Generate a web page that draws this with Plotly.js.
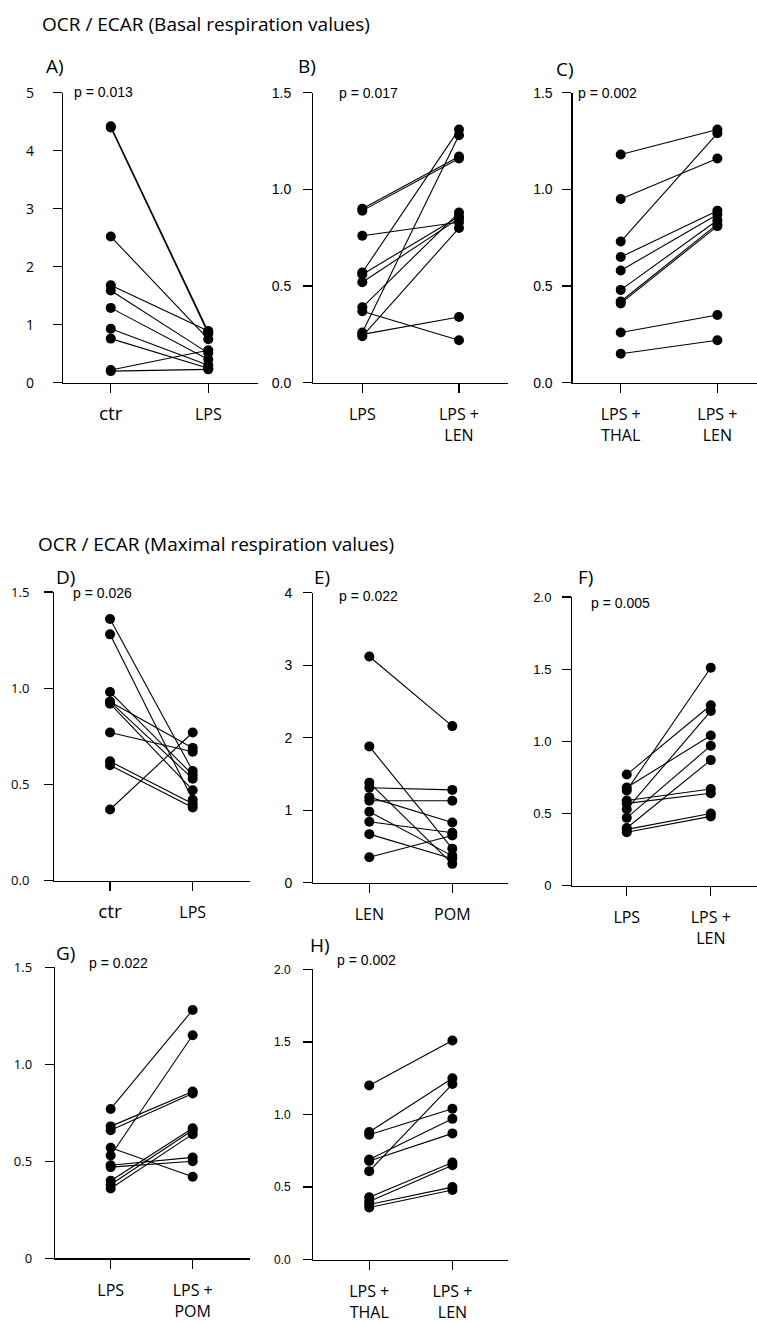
<!DOCTYPE html>
<html>
<head>
<meta charset="utf-8">
<script src="https://cdn.plot.ly/plotly-3.0.1.min.js"></script>
<style>html,body{margin:0;padding:0;background:#fff;}#chart{width:757px;height:1323px;}</style>
</head>
<body>
<div id="chart"></div>
<script>
// ---------- data ----------
const titleBasal = "OCR / ECAR (Basal respiration values)";
const titleMaximal = "OCR / ECAR (Maximal respiration values)";

const A_cats = ['<span style="font-size:19px">ctr</span>', "LPS"];
const A_ctr = [4.42, 4.40, 2.52, 1.68, 1.59, 1.29, 0.93, 0.76, 0.22, 0.20];
const A_lps = [0.88, 0.85, 0.75, 0.89, 0.51, 0.40, 0.30, 0.25, 0.56, 0.23];
const A_p = "p = 0.013";
const A_yticks = [0, 1, 2, 3, 4, 5];
const A_ytext = ["0", "1", "2", "3", "4", "5"];

const B_cats = ["LPS", "LPS +<br>LEN"];
const B_lps = [0.90, 0.89, 0.76, 0.57, 0.56, 0.52, 0.39, 0.37, 0.26, 0.25, 0.24];
const B_len = [1.17, 1.16, 0.83, 1.31, 0.86, 0.85, 0.88, 0.22, 1.28, 0.34, 0.80];
const B_p = "p = 0.017";
const B_yticks = [0, 0.5, 1.0, 1.5];
const B_ytext = ["0.0", "0.5", "1.0", "1.5"];

const C_cats = ["LPS +<br>THAL", "LPS +<br>LEN"];
const C_thal = [1.18, 0.95, 0.73, 0.65, 0.58, 0.48, 0.42, 0.41, 0.26, 0.15];
const C_len = [1.31, 1.16, 1.29, 0.89, 0.87, 0.84, 0.82, 0.81, 0.35, 0.22];
const C_p = "p = 0.002";
const C_yticks = [0, 0.5, 1.0, 1.5];
const C_ytext = ["0.0", "0.5", "1.0", "1.5"];

const D_cats = ['<span style="font-size:19px">ctr</span>', "LPS"];
const D_ctr = [1.36, 1.28, 0.98, 0.93, 0.92, 0.77, 0.62, 0.60, 0.37, 0.93];
const D_lps = [0.57, 0.42, 0.55, 0.53, 0.47, 0.67, 0.40, 0.38, 0.77, 0.69];
const D_p = "p = 0.026";
const D_yticks = [0, 0.5, 1.0, 1.5];
const D_ytext = ["0.0", "0.5", "1.0", "1.5"];

const E_cats = ["LEN", "POM"];
const E_len = [3.12, 1.88, 1.38, 1.31, 1.18, 1.13, 0.98, 0.84, 0.67, 0.35];
const E_pom = [2.16, 0.47, 0.26, 1.28, 0.83, 1.13, 0.37, 0.69, 0.33, 0.65];
const E_p = "p = 0.022";
const E_yticks = [0, 1, 2, 3, 4];
const E_ytext = ["0", "1", "2", "3", "4"];

const F_cats = ["LPS", "LPS +<br>LEN"];
const F_lps = [0.77, 0.68, 0.66, 0.59, 0.57, 0.53, 0.47, 0.40, 0.39, 0.37];
const F_len = [1.25, 1.04, 1.51, 0.67, 0.64, 1.21, 0.97, 0.87, 0.50, 0.48];
const F_p = "p = 0.005";
const F_yticks = [0, 0.5, 1.0, 1.5, 2.0];
const F_ytext = ["0", "0.5", "1.0", "1.5", "2.0"];

const G_cats = ["LPS", "LPS +<br>POM"];
const G_lps = [0.77, 0.68, 0.66, 0.57, 0.53, 0.48, 0.47, 0.40, 0.38, 0.36];
const G_pom = [1.28, 0.86, 0.85, 0.42, 1.15, 0.52, 0.50, 0.67, 0.66, 0.64];
const G_p = "p = 0.022";
const G_yticks = [0, 0.5, 1.0, 1.5];
const G_ytext = ["0", "0.5", "1.0", "1.5"];

const H_cats = ["LPS +<br>THAL", "LPS +<br>LEN"];
const H_thal = [1.20, 0.88, 0.86, 0.69, 0.68, 0.61, 0.43, 0.40, 0.38, 0.36];
const H_len = [1.51, 1.25, 1.04, 0.97, 0.87, 1.21, 0.67, 0.65, 0.50, 0.48];
const H_p = "p = 0.002";
const H_yticks = [0, 0.5, 1.0, 1.5, 2.0];
const H_ytext = ["0.0", "0.5", "1.0", "1.5", "2.0"];

// ---------- layout helpers ----------
const W = 757, Hh = 1323;
const px = v => v / W;
const py = v => 1 - v / Hh;
const MYRIAD = "Open Sans, Noto Sans, sans-serif";
const ARIAL = "Liberation Sans, Arial, sans-serif";

const panels = [
  {k:"A", cats:A_cats, a:A_ctr, b:A_lps, p:A_p, yt:A_yticks, ytt:A_ytext, yr:[0,5],
   xd:[63,258], xr:[-0.49,1.51], yd:[92.7,382.7], yfont:{family:MYRIAD,size:14}, ystand:16,
   lab:[44,66], pp:[72,92]},
  {k:"B", cats:B_cats, a:B_lps, b:B_len, p:B_p, yt:B_yticks, ytt:B_ytext, yr:[0,1.5],
   xd:[313.3,508], xr:[-0.507,1.507], yd:[92.7,382.7], yfont:{family:ARIAL,size:14}, ystand:9,
   lab:[296,66], pp:[337,93]},
  {k:"C", cats:C_cats, a:C_thal, b:C_len, p:C_p, yt:C_yticks, ytt:C_ytext, yr:[0,1.5],
   xd:[572.7,757], xr:[-0.497,1.41], yd:[92.7,382.7], yfont:{family:ARIAL,size:14}, ystand:7,
   lab:[554,69], pp:[576,93]},
  {k:"D", cats:D_cats, a:D_ctr, b:D_lps, p:D_p, yt:D_yticks, ytt:D_ytext, yr:[0,1.5],
   xd:[54.3,250], xr:[-0.674,1.693], yd:[592,880.7], yfont:{family:MYRIAD,size:13}, ystand:12,
   lab:[54,577], pp:[71,593]},
  {k:"E", cats:E_cats, a:E_len, b:E_pom, p:E_p, yt:E_yticks, ytt:E_ytext, yr:[0,4],
   xd:[313.3,508], xr:[-0.675,1.671], yd:[592.7,882.7], yfont:{family:ARIAL,size:14}, ystand:8,
   lab:[312,577], pp:[337,596]},
  {k:"F", cats:F_cats, a:F_lps, b:F_len, p:F_p, yt:F_yticks, ytt:F_ytext, yr:[0,2],
   xd:[572.3,757], xr:[-0.648,1.55], yd:[597,885.7], yfont:{family:ARIAL,size:13}, ystand:8,
   lab:[576,577], pp:[589,603]},
  {k:"G", cats:G_cats, a:G_lps, b:G_pom, p:G_p, yt:G_yticks, ytt:G_ytext, yr:[0,1.5],
   xd:[55,250], xr:[-0.679,1.699], yd:[967.3,1258.3], yfont:{family:MYRIAD,size:13}, ystand:10,
   lab:[54,953], pp:[87,963]},
  {k:"H", cats:H_cats, a:H_thal, b:H_len, p:H_p, yt:H_yticks, ytt:H_ytext, yr:[0,2],
   xd:[313.3,508], xr:[-0.672,1.668], yd:[969.3,1259.7], yfont:{family:ARIAL,size:12}, ystand:10,
   lab:[308,945], pp:[335,960]}
];

const traces = [];
const layout = {
  width: W, height: Hh, margin:{l:0,r:0,t:0,b:0},
  paper_bgcolor:"#fff", plot_bgcolor:"rgba(0,0,0,0)", showlegend:false,
  annotations: [], font:{family:MYRIAD, color:"#000"}
};

layout.annotations.push({xref:"paper", yref:"paper", x:px(40), y:py(24), xanchor:"left", yanchor:"middle",
  text:titleBasal, showarrow:false, font:{family:MYRIAD, size:19, color:"#000"}});
layout.annotations.push({xref:"paper", yref:"paper", x:px(36), y:py(544), xanchor:"left", yanchor:"middle",
  text:titleMaximal, showarrow:false, font:{family:MYRIAD, size:19, color:"#000"}});

panels.forEach((P, i) => {
  const n = i + 1;
  const xa = n === 1 ? "x" : "x" + n, ya = n === 1 ? "y" : "y" + n;
  const xk = n === 1 ? "xaxis" : "xaxis" + n, yk = n === 1 ? "yaxis" : "yaxis" + n;
  const xs = [], ys = [];
  for (let j = 0; j < P.a.length; j++) {
    xs.push(0, 1, null);
    ys.push(P.a[j], P.b[j], null);
  }
  traces.push({type:"scatter", mode:"lines+markers", x:xs, y:ys, xaxis:xa, yaxis:ya,
    line:{color:"#000", width:1.1}, marker:{color:"#000", size:10}, cliponaxis:false,
    connectgaps:false, hoverinfo:"skip"});
  layout[xk] = {domain:[px(P.xd[0]), px(P.xd[1])], range:P.xr, anchor:ya,
    showline:true, linecolor:"#000", linewidth:1.3, showgrid:false, zeroline:false,
    ticks:"outside", ticklen:9, tickwidth:1.2, tickcolor:"#000",
    tickvals:[0,1], ticktext:P.cats, tickfont:{family:MYRIAD, size:16, color:"#000"},
    ticklabelstandoff:8, fixedrange:true};
  layout[yk] = {domain:[py(P.yd[1]), py(P.yd[0])], range:P.yr, anchor:xa,
    showline:true, linecolor:"#000", linewidth:1.3, showgrid:false, zeroline:false,
    ticks:"outside", ticklen:9, tickwidth:1.2, tickcolor:"#000",
    tickvals:P.yt, ticktext:P.ytt, tickfont:Object.assign({color:"#000"}, P.yfont),
    ticklabelstandoff:P.ystand, fixedrange:true};
  layout.annotations.push({xref:"paper", yref:"paper", x:px(P.lab[0]), y:py(P.lab[1]),
    xanchor:"left", yanchor:"middle", text:P.k + ")", showarrow:false,
    font:{family:MYRIAD, size:19, color:"#000"}});
  layout.annotations.push({xref:"paper", yref:"paper", x:px(P.pp[0]), y:py(P.pp[1]),
    xanchor:"left", yanchor:"middle", text:P.p, showarrow:false,
    font:{family:ARIAL, size:14, color:"#000"}});
});

Plotly.newPlot("chart", traces, layout, {staticPlot:true, displayModeBar:false});
</script>
</body>
</html>
